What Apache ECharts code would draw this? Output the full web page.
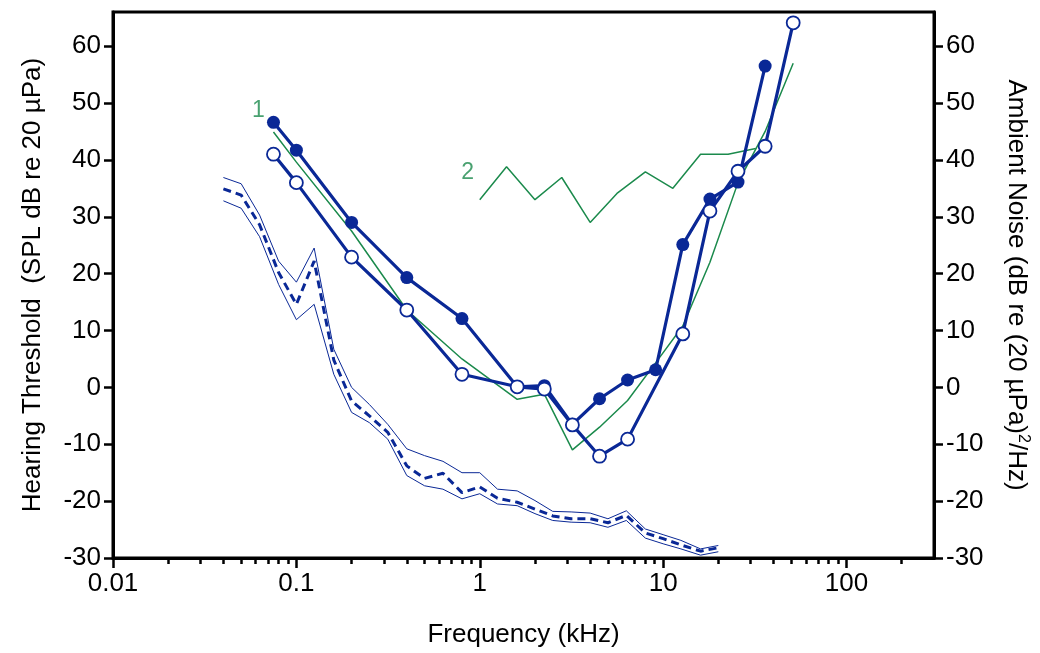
<!DOCTYPE html>
<html>
<head>
<meta charset="utf-8">
<script src="https://cdn.jsdelivr.net/npm/echarts@6/dist/echarts.min.js"></script>
<style>
html,body{margin:0;padding:0;background:#fff;}
#chart{width:1040px;height:653px;}
</style>
</head>
<body>
<div id="chart"></div>
<script>
// ---- data ----
const filledFreq = [0.075, 0.1, 0.2, 0.4, 0.8, 1.6, 2.25, 3.2, 4.5, 6.4, 9.1, 12.8, 18, 25.6, 36];
const filledThreshold = [46.6, 41.7, 29.0, 19.3, 12.1, 0.1, 0.3, -6.5, -2.0, 1.3, 3.1, 25.1, 33.1, 36.1, 56.5];

const openFreq = [0.075, 0.1, 0.2, 0.4, 0.8, 1.6, 2.25, 3.2, 4.5, 6.4, 12.8, 18, 25.6, 36, 51.2];
const openThreshold = [41.0, 36.0, 22.9, 13.6, 2.3, 0.1, -0.3, -6.6, -12.1, -9.1, 9.4, 31.0, 38.0, 42.4, 64.1];

const green1Freq = [0.075, 0.1, 0.2, 0.4, 0.8, 1.6, 2.25, 3.2, 4.5, 6.4, 9.1, 12.8, 18, 25.6, 36, 51.2];
const green1Values = [44.9, 39.6, 27.5, 13.6, 5.0, -2.1, -1.2, -11.0, -7.0, -2.3, 4.3, 10.8, 22.0, 36.0, 45.0, 57.0];

const green2Freq = [1, 1.4, 2, 2.8, 4, 5.6, 8, 11.3, 16, 22.6, 32];
const green2Values = [33.0, 38.8, 33.0, 36.9, 29.0, 34.1, 37.9, 35.0, 41.0, 41.0, 42.0];

const greenLabels = ['1', '2'];

const noiseFreq = [0.04, 0.05, 0.063, 0.08, 0.1, 0.125, 0.16, 0.2, 0.25, 0.315, 0.4, 0.5, 0.63, 0.8,
  1, 1.25, 1.6, 2, 2.5, 3.15, 4, 5, 6.3, 8, 10, 12.5, 16, 20];
const noiseMean = [34.9, 33.8, 28.6, 20.2, 14.6, 22.2, 4.8, -2.4, -5.0, -7.9, -13.8, -16.0, -15.1, -18.5,
  -17.5, -19.5, -20.2, -21.4, -22.6, -23.1, -23.1, -23.8, -22.5, -25.6, -26.6, -27.7, -28.8, -28.2];
const noiseUpper = [36.9, 35.8, 30.3, 22.2, 18.5, 24.5, 6.7, 0.0, -3.0, -6.5, -10.8, -12.0, -13.0, -15.0,
  -15.0, -17.9, -18.2, -19.9, -21.8, -21.9, -22.1, -23.1, -21.7, -24.9, -25.9, -26.9, -28.4, -27.8];
const noiseLower = [32.8, 31.5, 26.5, 18.1, 11.9, 14.6, 2.3, -4.4, -6.2, -9.1, -15.5, -17.3, -17.9, -19.6,
  -18.7, -20.5, -20.8, -22.2, -23.4, -23.7, -23.8, -24.6, -23.4, -26.5, -27.5, -28.4, -29.5, -28.9];

const xMajorTicks = [0.01, 0.1, 1, 10, 100];
const xMinorTicks = [0.02, 0.03, 0.04, 0.05, 0.06, 0.07, 0.08, 0.09,
  0.2, 0.3, 0.4, 0.5, 0.6, 0.7, 0.8, 0.9,
  2, 3, 4, 5, 6, 7, 8, 9,
  20, 30, 40, 50, 60, 70, 80, 90, 200];
const yTicks = [-30, -20, -10, 0, 10, 20, 30, 40, 50, 60];

// ---- styles ----
const BLUE = '#0a2896';
const GREEN = '#1b8a4c';
const FONT = '"Liberation Sans", Arial, sans-serif';
const TICK_FS = 26;
const NAME_FS = 26;

const pairs = (xs, ys) => xs.map((x, i) => [x, ys[i]]);

const chart = echarts.init(document.getElementById('chart'), null, {renderer: 'canvas'});

const yAxisCommon = {
  type: 'value', min: -30, max: 66,
  splitLine: {show: false},
  axisLine: {show: true, lineStyle: {color: '#000', width: 3}},
  axisTick: {show: true, inside: false, length: 9, customValues: yTicks, lineStyle: {color: '#000', width: 2.5}},
  axisLabel: {customValues: yTicks, color: '#000', fontSize: TICK_FS, fontFamily: FONT, margin: 12},
  nameLocation: 'middle',
  nameTextStyle: {color: '#000', fontSize: NAME_FS, fontFamily: FONT}
};

const option = {
  animation: false,
  backgroundColor: '#fff',
  grid: {left: 113, right: 106, top: 12, bottom: 94, show: true, borderColor: '#000', borderWidth: 3, backgroundColor: 'transparent'},
  xAxis: [{
    type: 'log', logBase: 10, min: 0.01, max: 300,
    splitLine: {show: false},
    axisLine: {show: true, onZero: false, lineStyle: {color: '#000', width: 3}},
    axisTick: {show: true, length: 10, customValues: xMajorTicks, lineStyle: {color: '#000', width: 2.5}},
    minorTick: {show: false},
    axisLabel: {customValues: xMajorTicks, color: '#000', fontSize: TICK_FS, fontFamily: FONT, margin: 13,
      formatter: v => String(+(+v).toPrecision(3))},
    name: 'Frequency (kHz)', nameLocation: 'middle', nameGap: 64,
    nameTextStyle: {color: '#000', fontSize: NAME_FS, fontFamily: FONT}
  }, {
    type: 'log', logBase: 10, min: 0.01, max: 300, position: 'bottom',
    splitLine: {show: false},
    axisLine: {show: false, onZero: false},
    axisTick: {show: true, length: 6, customValues: xMinorTicks, lineStyle: {color: '#000', width: 2.5}},
    axisLabel: {show: false}
  }],
  yAxis: [Object.assign({}, yAxisCommon, {
    position: 'left',
    name: 'Hearing Threshold  (SPL dB re 20 µPa)', nameGap: 67
  }), Object.assign({}, yAxisCommon, {
    position: 'right',
    name: 'Ambient Noise (dB re (20 µPa){sup|2}/Hz)', nameGap: 67, nameRotate: -90,
    nameTextStyle: {color: '#000', fontSize: NAME_FS, fontFamily: FONT,
      rich: {sup: {fontSize: 16, fontFamily: FONT, color: '#000', padding: [0, 0, 14, 0]}}}
  })],
  series: [
    {
      name: 'noise upper', type: 'line', xAxisIndex: 0, yAxisIndex: 1,
      data: pairs(noiseFreq, noiseUpper), showSymbol: false, symbol: 'none',
      lineStyle: {color: BLUE, width: 1}, z: 2
    },
    {
      name: 'noise lower', type: 'line', xAxisIndex: 0, yAxisIndex: 1,
      data: pairs(noiseFreq, noiseLower), showSymbol: false, symbol: 'none',
      lineStyle: {color: BLUE, width: 1}, z: 2
    },
    {
      name: 'noise mean', type: 'line', xAxisIndex: 0, yAxisIndex: 1,
      data: pairs(noiseFreq, noiseMean), showSymbol: false, symbol: 'none',
      lineStyle: {color: BLUE, width: 3, type: [8, 5]}, z: 3
    },
    {
      name: 'study 1', type: 'line', xAxisIndex: 0, yAxisIndex: 0,
      data: pairs(green1Freq, green1Values),
      symbol: 'none', lineStyle: {color: GREEN, width: 1.5}, z: 4
    },
    {
      name: 'study 2', type: 'line', xAxisIndex: 0, yAxisIndex: 0,
      data: pairs(green2Freq, green2Values),
      symbol: 'none', lineStyle: {color: GREEN, width: 1.5}, z: 4
    },
    {
      name: 'study labels', type: 'scatter', xAxisIndex: 0, yAxisIndex: 0,
      symbolSize: 1, itemStyle: {color: 'rgba(0,0,0,0)'}, silent: true,
      data: [
        {value: [green1Freq[0], green1Values[0]], name: greenLabels[0],
          label: {offset: [-15, -21]}},
        {value: [green2Freq[0], green2Values[0]], name: greenLabels[1],
          label: {offset: [-12, -27]}}
      ],
      label: {show: true, position: 'inside', formatter: p => p.name,
        color: GREEN, fontSize: 23, fontFamily: FONT},
      z: 4
    },
    {
      name: 'threshold filled', type: 'line', xAxisIndex: 0, yAxisIndex: 0,
      data: pairs(filledFreq, filledThreshold),
      symbol: 'circle', symbolSize: 13, showAllSymbol: true,
      lineStyle: {color: BLUE, width: 3.2},
      itemStyle: {color: BLUE, borderColor: BLUE, borderWidth: 0}, z: 5
    },
    {
      name: 'threshold open', type: 'line', xAxisIndex: 0, yAxisIndex: 0,
      data: pairs(openFreq, openThreshold),
      symbol: 'circle', symbolSize: 13, showAllSymbol: true,
      lineStyle: {color: BLUE, width: 3.2},
      itemStyle: {color: '#fff', borderColor: BLUE, borderWidth: 1.8}, z: 6
    }
  ]
};

chart.setOption(option);
</script>
</body>
</html>
